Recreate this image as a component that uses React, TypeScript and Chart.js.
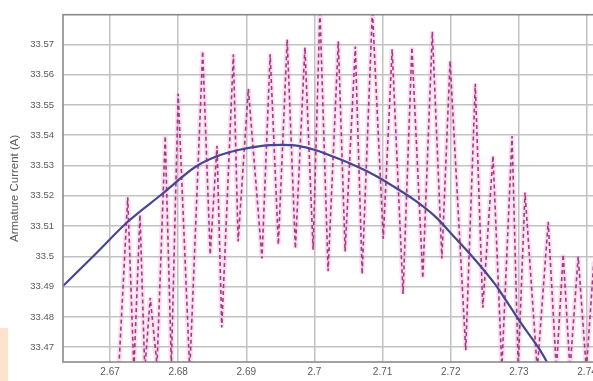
import React, { useEffect, useRef } from "react";
import { Chart, registerables } from "chart.js";

Chart.register(...registerables);

const xTicks = [2.67, 2.68, 2.69, 2.7, 2.71, 2.72, 2.73, 2.74];
const xTickLabels = ["2.67", "2.68", "2.69", "2.7", "2.71", "2.72", "2.73", "2.74"];
const yTicks = [33.47, 33.48, 33.49, 33.5, 33.51, 33.52, 33.53, 33.54, 33.55, 33.56, 33.57];
const yTickLabels = ["33.47", "33.48", "33.49", "33.5", "33.51", "33.52", "33.53", "33.54", "33.55", "33.56", "33.57"];

// smooth fitted current (blue solid)
const curveX = [2.6631, 2.6678, 2.6726, 2.6776, 2.6825, 2.6854, 2.6888, 2.6923, 2.6952, 2.6976, 2.7001, 2.703, 2.706, 2.7089, 2.7118, 2.7148, 2.7177, 2.7206, 2.7236, 2.7265, 2.7283, 2.7306, 2.7331, 2.7346];
const curveY = [33.4902, 33.5006, 33.5114, 33.5205, 33.5295, 33.5328, 33.5351, 33.5365, 33.5368, 33.5365, 33.5351, 33.5327, 33.5299, 33.5267, 33.5228, 33.5184, 33.5132, 33.5062, 33.4988, 33.4908, 33.4848, 33.4770, 33.469, 33.4632];

// rippled armature current (magenta dashed)
const rippleX = [2.6712, 2.6726, 2.6735, 2.6744, 2.6751, 2.6759, 2.6769, 2.6781, 2.679, 2.68, 2.6817, 2.6836, 2.6847, 2.6857, 2.6864, 2.6881, 2.6888, 2.6903, 2.6923, 2.6935, 2.6947, 2.696, 2.6972, 2.6986, 2.6998, 2.7008, 2.702, 2.7035, 2.7045, 2.706, 2.707, 2.7085, 2.7101, 2.7114, 2.713, 2.7143, 2.7159, 2.7173, 2.7187, 2.7199, 2.7222, 2.7236, 2.7247, 2.7262, 2.7275, 2.729, 2.7299, 2.7309, 2.7327, 2.7343, 2.7355, 2.7365, 2.7375, 2.7387, 2.7399, 2.741, 2.7419];
const rippleY = [33.4593, 33.5195, 33.4625, 33.5137, 33.4625, 33.4863, 33.4641, 33.5397, 33.4641, 33.5537, 33.4619, 33.5677, 33.5006, 33.5365, 33.4765, 33.5667, 33.5049, 33.5553, 33.4993, 33.5667, 33.5039, 33.5716, 33.5026, 33.569, 33.5022, 33.5814, 33.4951, 33.571, 33.5016, 33.5693, 33.4941, 33.5814, 33.5058, 33.5684, 33.4876, 33.569, 33.4928, 33.5742, 33.4993, 33.5645, 33.469, 33.557, 33.483, 33.5332, 33.4632, 33.5397, 33.4632, 33.5211, 33.4625, 33.5114, 33.4625, 33.5006, 33.4625, 33.4999, 33.4625, 33.4983, 33.4625];

const FONT = "'Liberation Sans', Arial, Helvetica, sans-serif";

export default function App() {
  const ref = useRef<HTMLCanvasElement | null>(null);

  useEffect(() => {
    if (!ref.current) return;
    const curve = curveX.map((x, i) => ({ x, y: curveY[i] }));
    const ripple = rippleX.map((x, i) => ({ x, y: rippleY[i] }));

    const boxPlugin = {
      id: "box",
      afterDatasetsDraw(chart: any) {
        const { ctx, chartArea: a } = chart;
        ctx.save();
        ctx.strokeStyle = "#8a8a8a";
        ctx.lineWidth = 1.6;
        ctx.strokeRect(a.left, a.top, a.right - a.left, a.bottom - a.top);
        ctx.restore();
      },
    };

    const chart = new Chart(ref.current, {
      type: "line",
      data: {
        datasets: [
          {
            label: "fit",
            data: curve,
            borderColor: "#48468f",
            borderWidth: 2.2,
            pointRadius: 0,
            cubicInterpolationMode: "monotone",
            fill: false,
            order: 0,
          },
          {
            label: "ripple",
            data: ripple,
            borderColor: "#a63a80",
            borderWidth: 1.6,
            borderDash: [4, 3],
            pointRadius: 0,
            tension: 0,
            fill: false,
            order: 1,
          },
          {
            label: "ripple haze",
            data: ripple,
            borderColor: "rgba(238,160,212,0.32)",
            borderWidth: 5,
            pointRadius: 0,
            tension: 0,
            fill: false,
            order: 2,
          },
        ],
      },
      options: {
        responsive: false,
        animation: false,
        layout: { padding: { left: 0, top: 10, right: 39, bottom: 0 } },
        plugins: {
          legend: { display: false },
          tooltip: { enabled: false },
        },
        scales: {
          x: {
            type: "linear",
            min: 2.6631,
            max: 2.74205,
            afterBuildTicks: (axis: any) => {
              axis.ticks = xTicks.map((v) => ({ value: v }));
            },
            afterFit: (axis: any) => {
              axis.height = 19;
            },
            ticks: {
              callback: (_v: any, i: number) => xTickLabels[i],
              font: { family: FONT, size: 10 },
              color: "#5a5a5a",
              padding: 4,
              maxRotation: 0,
              autoSkip: false,
            },
            grid: { color: "#c2c2c2", lineWidth: 1.5, drawTicks: false },
            border: { display: false },
          },
          y: {
            type: "linear",
            min: 33.4651,
            max: 33.5798,
            afterBuildTicks: (axis: any) => {
              axis.ticks = yTicks.map((v) => ({ value: v }));
            },
            afterFit: (axis: any) => {
              axis.width = 63;
            },
            ticks: {
              callback: (_v: any, i: number) => yTickLabels[i],
              font: { family: FONT, size: 9.5 },
              color: "#5a5a5a",
              padding: 9,
              autoSkip: false,
            },
            title: {
              display: true,
              text: "Armature Current (A)",
              font: { family: FONT, size: 11.5 },
              color: "#5a5a5a",
              padding: { top: 8, bottom: 0 },
            },
            grid: { color: "#c2c2c2", lineWidth: 1.5, drawTicks: false },
            border: { display: false },
          },
        },
      },
      plugins: [boxPlugin],
    } as any);

    return () => chart.destroy();
  }, []);

  return (
    <div
      style={{
        position: "fixed",
        left: 0,
        top: 0,
        width: 593,
        height: 381,
        overflow: "hidden",
        background: "#ffffff",
      }}
    >
      <canvas
        ref={ref}
        width={640}
        height={381}
        style={{ position: "absolute", left: 0, top: 0, width: 640, height: 381 }}
      />
      <div
        style={{
          position: "absolute",
          left: 0,
          top: 328,
          width: 8,
          height: 53,
          background: "#fde3cb",
        }}
      />
    </div>
  );
}
